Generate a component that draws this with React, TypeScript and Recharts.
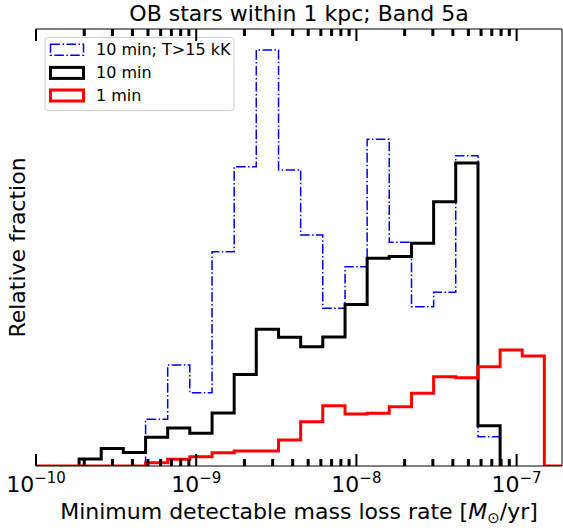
import React from 'react';
import { ComposedChart, Line, XAxis, YAxis, ReferenceLine } from 'recharts';

// log-spaced histogram bin edges [Msun/yr]
const EDGES = [
  1.858e-10, 2.553e-10, 3.508e-10, 4.831e-10, 6.637e-10, 9.12e-10, 1.256e-9, 1.726e-9,
  2.371e-9, 3.266e-9, 4.487e-9, 6.166e-9, 8.492e-9, 1.167e-8, 1.603e-8, 2.208e-8,
  3.034e-8, 4.169e-8, 5.741e-8, 7.889e-8, 1.084e-7, 1.489e-7,
];

// relative fractions per bin
const TEN_MIN = [
  0.007, 0.0175, 0.0135, 0.0287, 0.038, 0.0327, 0.053, 0.0915, 0.1367, 0.1287,
  0.1193, 0.129, 0.1615, 0.2077, 0.2095, 0.2227, 0.2643, 0.303, 0.0403,
];
const TEN_MIN_START = 0;

const TEN_MIN_HOT = [
  0.0467, 0.101, 0.0733, 0.2143, 0.2993, 0.416, 0.296, 0.231, 0.1577, 0.1993,
  0.3267, 0.2237, 0.1593, 0.1737, 0.3103, 0.0293,
];
const TEN_MIN_HOT_START = 3;

const ONE_MIN = [
  0.0033, 0.0067, 0.0093, 0.0133, 0.015, 0.015, 0.026, 0.0443, 0.0603, 0.052,
  0.0527, 0.0593, 0.0727, 0.0893, 0.0883, 0.0993, 0.116, 0.11,
];
const ONE_MIN_START = 3;

const XMIN = 1e-10;
const XMAX = 1.92e-7;
const YMAX = 0.437;

const MAJOR_TICKS = [1e-10, 1e-9, 1e-8, 1e-7];
const MINOR_TICKS = [
  2e-10, 3e-10, 4e-10, 5e-10, 6e-10, 7e-10, 8e-10, 9e-10,
  2e-9, 3e-9, 4e-9, 5e-9, 6e-9, 7e-9, 8e-9, 9e-9,
  2e-8, 3e-8, 4e-8, 5e-8, 6e-8, 7e-8, 8e-8, 9e-8,
];

const FONT = 'DejaVu Sans, sans-serif';
const BLUE_DASH = '9.6 2.4 1.5 2.4';
// tick lengths in y-data units (plot is 437px tall for 0.437)
const MAJOR_LEN = 0.012;
const MINOR_LEN = 0.007;

// turn bin heights into step outline points
const stepPoints = (values, start, padLeft = false, padRight = false) => {
  const pts = [];
  if (padLeft) pts.push({ x: XMIN, y: 0 });
  pts.push({ x: EDGES[start], y: 0 });
  values.forEach((v, i) => pts.push({ x: EDGES[start + i], y: v }));
  pts.push({ x: EDGES[start + values.length], y: 0 });
  if (padRight) pts.push({ x: XMAX, y: 0 });
  return pts;
};

const hotData = stepPoints(TEN_MIN_HOT, TEN_MIN_HOT_START);
const tenData = stepPoints(TEN_MIN, TEN_MIN_START);
const oneData = stepPoints(ONE_MIN, ONE_MIN_START, true, true);

const TickLabel = (props) => {
  const { x, y, payload } = props;
  const exp = Math.round(Math.log10(payload.value));
  return (
    <text x={x} y={y + 26} textAnchor="middle" fontFamily={FONT} fontSize={22} fill="#000">
      <tspan>10</tspan>
      <tspan dy={-9} fontSize={15}>{'\u2212' + Math.abs(exp)}</tspan>
    </text>
  );
};

const tickMarks = (values, len, width) =>
  values.flatMap((v) => [
    <ReferenceLine
      key={'b' + v}
      segment={[{ x: v, y: 0 }, { x: v, y: len }]}
      stroke="#000"
      strokeWidth={width}
      ifOverflow="visible"
    />,
    <ReferenceLine
      key={'t' + v}
      segment={[{ x: v, y: YMAX - len }, { x: v, y: YMAX }]}
      stroke="#000"
      strokeWidth={width}
      ifOverflow="visible"
    />,
  ]);

const LEGEND = [
  { label: '10 min; T>15 kK', color: '#0000ff', width: 1.5, dash: BLUE_DASH, cy: 49.7 },
  { label: '10 min', color: '#000000', width: 3, dash: undefined, cy: 72.9 },
  { label: '1 min', color: '#ff0000', width: 3, dash: undefined, cy: 95.5 },
];

export default function App() {
  return (
    <div style={{ position: 'absolute', left: 0, top: 0, width: 563, height: 530, background: '#fff', fontFamily: FONT }}>
      <ComposedChart width={563} height={530} margin={{ top: 29, right: 1, left: 36, bottom: 24 }}>
        <XAxis
          dataKey="x"
          type="number"
          scale="log"
          domain={[XMIN, XMAX]}
          allowDataOverflow
          ticks={MAJOR_TICKS}
          interval={0}
          tick={<TickLabel />}
          tickSize={0}
          tickMargin={0}
          tickLine={false}
          height={40}
          axisLine={{ stroke: '#000', strokeWidth: 1 }}
        />
        <YAxis
          type="number"
          domain={[0, YMAX]}
          allowDataOverflow
          width={0}
          tick={false}
          tickLine={false}
          axisLine={{ stroke: '#000', strokeWidth: 1 }}
        />
        <ReferenceLine y={YMAX} stroke="#000" strokeWidth={1} ifOverflow="visible" />
        <ReferenceLine x={XMAX} stroke="#000" strokeWidth={1} ifOverflow="visible" />
        <Line
          data={hotData}
          dataKey="y"
          type="stepAfter"
          stroke="#0000ff"
          strokeWidth={1.5}
          strokeDasharray={BLUE_DASH}
          dot={false}
          activeDot={false}
          isAnimationActive={false}
          strokeLinejoin="miter"
        />
        <Line
          data={tenData}
          dataKey="y"
          type="stepAfter"
          stroke="#000000"
          strokeWidth={3}
          dot={false}
          activeDot={false}
          isAnimationActive={false}
          strokeLinejoin="miter"
        />
        <Line
          data={oneData}
          dataKey="y"
          type="stepAfter"
          stroke="#ff0000"
          strokeWidth={3}
          dot={false}
          activeDot={false}
          isAnimationActive={false}
          strokeLinejoin="miter"
        />
        {tickMarks(MAJOR_TICKS, MAJOR_LEN, 2)}
        {tickMarks(MINOR_TICKS, MINOR_LEN, 3)}
        <text x={299} y={20.7} textAnchor="middle" fontFamily={FONT} fontSize={22} fill="#000">
          OB stars within 1 kpc; Band 5a
        </text>
        <text
          x={25}
          y={247.5}
          transform="rotate(-90, 25, 247.5)"
          textAnchor="middle"
          fontFamily={FONT}
          fontSize={22}
          fill="#000"
        >
          Relative fraction
        </text>
        <text x={299} y={519.3} textAnchor="middle" fontFamily={FONT} fontSize={22} fill="#000">
          <tspan>Minimum detectable mass loss rate [</tspan>
          <tspan fontStyle="italic">M</tspan>
          <tspan fontSize={15} dy={4}>{'\u2299'}</tspan>
          <tspan dy={-4}>/yr]</tspan>
        </text>
        <g>
          <rect x={45} y={37.5} width={189} height={73} rx={3} fill="#fff" fillOpacity={0.8} stroke="#cccccc" strokeWidth={1} />
          {LEGEND.map((e) => (
            <g key={e.label}>
              <rect
                x={50.5}
                y={e.cy - 5.5}
                width={33}
                height={11}
                fill="none"
                stroke={e.color}
                strokeWidth={e.width}
                strokeDasharray={e.dash}
              />
              <text x={96} y={e.cy} dominantBaseline="central" fontFamily={FONT} fontSize={16} fill="#000">
                {e.label}
              </text>
            </g>
          ))}
        </g>
      </ComposedChart>
    </div>
  );
}
